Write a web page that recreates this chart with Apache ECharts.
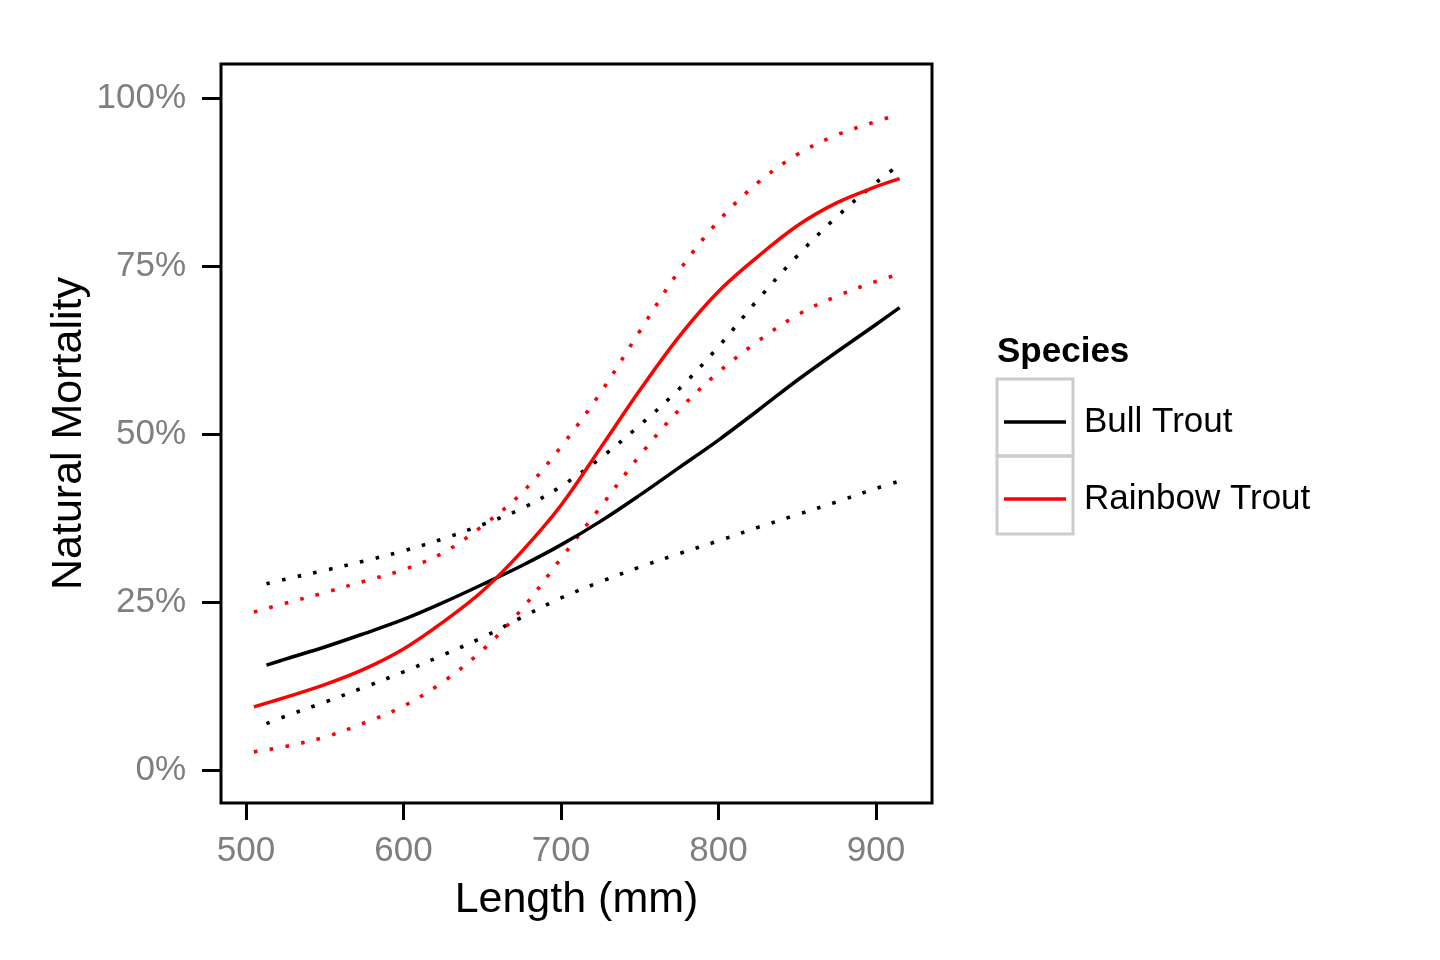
<!DOCTYPE html>
<html>
<head>
<meta charset="utf-8">
<script src="https://cdn.jsdelivr.net/npm/echarts@6/dist/echarts.min.js"></script>
<style>
html,body{margin:0;padding:0;background:#fff;}
#chart{width:1440px;height:960px;}
</style>
</head>
<body>
<div id="chart"></div>
<script>
// ---- data ----
const bullLength = [513, 525, 550, 575, 600, 625, 650, 675, 700, 725, 750, 775, 800, 825, 850, 875, 900, 915];
const bullFit    = [15.6, 16.5, 18.3, 20.3, 22.4, 24.9, 27.6, 30.4, 33.5, 37.0, 40.9, 45.0, 49.1, 53.5, 58.0, 62.2, 66.3, 68.8];
const bullUpper  = [27.7, 28.4, 29.7, 31.1, 32.6, 34.4, 36.5, 38.9, 42.2, 46.4, 51.3, 56.7, 63.0, 70.0, 76.5, 82.3, 87.4, 90.1];
const bullLower  = [6.9, 8.0, 10.1, 12.3, 14.6, 17.1, 19.7, 22.7, 25.6, 28.0, 30.2, 32.2, 34.1, 36.1, 38.0, 39.9, 41.9, 43.0];

const rainbowLength = [505, 525, 550, 575, 600, 625, 650, 675, 700, 725, 750, 775, 800, 825, 850, 875, 900, 915];
const rainbowFit    = [9.4, 10.8, 12.7, 15.0, 18.0, 22.0, 26.6, 32.5, 39.4, 47.9, 56.5, 64.5, 71.2, 76.4, 81.0, 84.4, 86.8, 88.0];
const rainbowUpper  = [23.5, 24.8, 26.4, 28.1, 29.8, 32.3, 36.3, 41.2, 48.1, 56.1, 65.3, 74.3, 81.7, 87.4, 91.6, 94.5, 96.5, 97.6];
const rainbowLower  = [2.7, 3.5, 4.9, 7.0, 9.5, 13.1, 17.8, 23.9, 31.5, 39.1, 46.8, 53.6, 59.2, 63.8, 67.7, 70.5, 72.7, 73.8];

const xTicks = [500, 600, 700, 800, 900];
const yTicks = [0, 25, 50, 75, 100];
const speciesNames = ['Bull Trout', 'Rainbow Trout'];

// ---- chart ----
const FONT = 'Liberation Sans, Arial, sans-serif';
function pairs(xs, ys){ return xs.map((x,i)=>[x, ys[i]]); }

const solid = {width: 3.5, type: 'solid', cap: 'butt'};
const dotted = {width: 3.6, type: [3.6, 12.4], cap: 'butt'};

function mk(name, xs, ys, color, style){
  return {
    name: name, type: 'line', data: pairs(xs, ys), smooth: 0.35,
    showSymbol: false, symbol: 'none', silent: true,
    lineStyle: Object.assign({color: color}, style),
    itemStyle: {color: color},
    emphasis: {disabled: true},
    animation: false
  };
}

const chart = echarts.init(document.getElementById('chart'), null, {renderer: 'canvas'});
chart.setOption({
  backgroundColor: '#ffffff',
  animation: false,
  textStyle: {fontFamily: FONT},
  grid: {left: 221, top: 64, width: 711, height: 739, show: true, borderColor: '#000', borderWidth: 3, containLabel: false},
  title: {
    text: 'Species', left: 997, top: 335, padding: 0,
    textStyle: {fontFamily: FONT, fontSize: 35, fontWeight: 'bold', color: '#000'}
  },
  legend: {
    data: speciesNames, orient: 'vertical', left: 1004, top: 402, padding: 0,
    icon: 'rect', itemWidth: 62, itemHeight: 3.4, itemGap: 37,
    selectedMode: false,
    textStyle: {fontFamily: FONT, fontSize: 35, color: '#000', lineHeight: 40, padding: [0, 0, 0, 13]}
  },
  graphic: [
    {type: 'rect', shape: {x: 997, y: 379, width: 76, height: 77}, style: {fill: 'none', stroke: '#cccccc', lineWidth: 3}, silent: true},
    {type: 'rect', shape: {x: 997, y: 456, width: 76, height: 78}, style: {fill: 'none', stroke: '#cccccc', lineWidth: 3}, silent: true}
  ],
  xAxis: {
    type: 'value', min: 484.13, max: 935.56,
    name: 'Length (mm)', nameLocation: 'middle', nameGap: 76,
    nameTextStyle: {fontFamily: FONT, fontSize: 43, color: '#000'},
    axisLine: {show: false, onZero: false},
    axisTick: {show: true, length: 17, customValues: xTicks, lineStyle: {color: '#000', width: 3}},
    axisLabel: {customValues: xTicks, fontFamily: FONT, fontSize: 35, color: '#7f7f7f', margin: 31},
    splitLine: {show: false}
  },
  yAxis: {
    type: 'value', min: -4.91, max: 105.06,
    name: 'Natural Mortality', nameLocation: 'middle', nameGap: 130,
    nameTextStyle: {fontFamily: FONT, fontSize: 43, color: '#000'},
    axisLine: {show: false, onZero: false},
    axisTick: {show: true, length: 19, customValues: yTicks, lineStyle: {color: '#000', width: 3}},
    axisLabel: {customValues: yTicks, fontFamily: FONT, fontSize: 35, color: '#7f7f7f', margin: 35, formatter: v => v + '%'},
    splitLine: {show: false}
  },
  series: [
    mk('Bull Trout upper', bullLength, bullUpper, '#000000', dotted),
    mk('Bull Trout lower', bullLength, bullLower, '#000000', dotted),
    mk('Rainbow Trout upper', rainbowLength, rainbowUpper, '#ff0000', dotted),
    mk('Rainbow Trout lower', rainbowLength, rainbowLower, '#ff0000', dotted),
    mk('Bull Trout', bullLength, bullFit, '#000000', solid),
    mk('Rainbow Trout', rainbowLength, rainbowFit, '#ff0000', solid)
  ]
});
</script>
</body>
</html>
